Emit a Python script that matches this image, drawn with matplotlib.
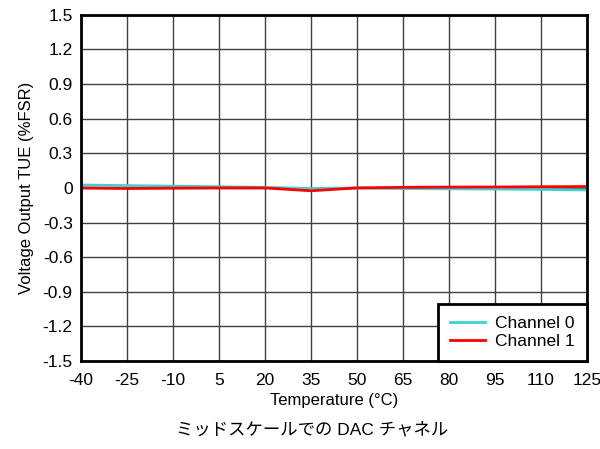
import matplotlib
matplotlib.use("Agg")
import matplotlib.pyplot as plt

temps = [-40, -25, -10, 5, 20, 35, 50, 65, 80, 95, 110, 125]
channel_0 = [0.025, 0.02, 0.015, 0.01, 0.005, -0.005, 0.0, -0.005, -0.008, -0.01, -0.013, -0.018]
channel_1 = [0.0, -0.005, -0.002, 0.0, 0.0, -0.025, 0.0, 0.005, 0.007, 0.008, 0.01, 0.012]

yticks = [-1.5, -1.2, -0.9, -0.6, -0.3, 0, 0.3, 0.6, 0.9, 1.2, 1.5]
ytick_labels = ["-1.5", "-1.2", "-0.9", "-0.6", "-0.3", "0", "0.3", "0.6", "0.9", "1.2", "1.5"]

plt.rcParams["font.family"] = ["Liberation Sans", "DejaVu Sans"]

fig = plt.figure(figsize=(6, 4.49), dpi=100)
ax = fig.add_axes([0.135, 0.196, 0.843, 0.771])

ax.plot(temps, channel_0, color="#40d0d0", linewidth=2, label="Channel 0")
ax.plot(temps, channel_1, color="#ff0000", linewidth=2, label="Channel 1")

ax.set_xlim(-40, 125)
ax.set_ylim(-1.5, 1.5)
ax.set_xticks(temps)
ax.set_xticklabels([str(t) for t in temps])
ax.set_yticks(yticks)
ax.set_yticklabels(ytick_labels)
ax.tick_params(length=0, labelsize=12.5)
ax.tick_params(axis="x", pad=9)
ax.tick_params(axis="y", pad=6)
ax.grid(True, color="#404040", linewidth=1)

for s in ax.spines.values():
    s.set_linewidth(2)
    s.set_color("black")

ax.set_xlabel("Temperature (°C)", fontsize=12, labelpad=3)
ax.set_ylabel("Voltage Output TUE (%FSR)", fontsize=12, labelpad=6)

leg = ax.legend(loc="lower right", bbox_to_anchor=(1.0, 0.0), fontsize=12.5,
                frameon=True, fancybox=False, borderaxespad=0,
                handlelength=2.0, handletextpad=0.6, borderpad=0.7,
                labelspacing=0.15)
leg.get_frame().set_edgecolor("black")
leg.get_frame().set_linewidth(2)
leg.get_frame().set_alpha(1)

fig.text(0.52, 0.044, "ミッドスケールでの DAC チャネル", ha="center", va="center",
         fontsize=12.5, family=["Liberation Sans", "Noto Sans CJK JP"])

fig.savefig("out.png", dpi=100)
